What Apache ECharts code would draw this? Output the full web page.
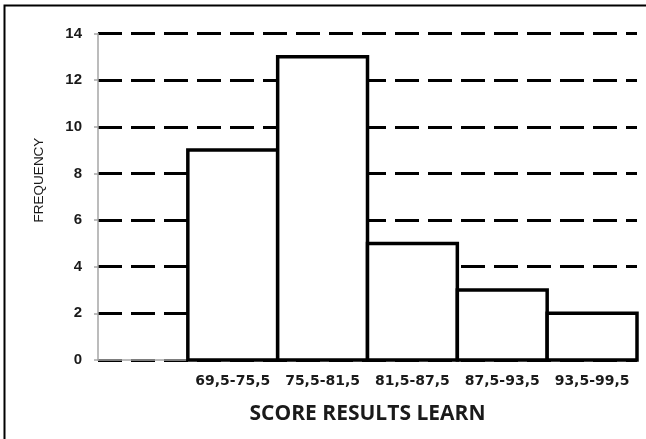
<!DOCTYPE html>
<html>
<head>
<meta charset="utf-8">
<script src="https://cdn.jsdelivr.net/npm/echarts@6/dist/echarts.min.js"></script>
<style>
  html, body { margin: 0; padding: 0; background: #fff; }
  #chart { width: 646px; height: 439px; }
</style>
</head>
<body>
<div id="chart"></div>
<script>
// Score class intervals (first slot left empty) and their frequencies
const categories = ['', '69,5-75,5', '75,5-81,5', '81,5-87,5', '87,5-93,5', '93,5-99,5'];
const frequencies = [null, 9, 13, 5, 3, 2];
const yTicks = { min: 0, max: 14, interval: 2 };

const chart = echarts.init(document.getElementById('chart'), null, { renderer: 'canvas' });

// Histogram columns: each fills its whole category band, outline centred on the band edges
function renderColumn(params, api) {
  const value = api.value(1);
  if (value == null || isNaN(value)) return null;
  const top = api.coord([api.value(0), value]);
  const base = api.coord([api.value(0), 0]);
  const band = api.size([1, 0])[0];
  return {
    type: 'rect',
    shape: { x: top[0] - band / 2, y: top[1], width: band, height: base[1] - top[1] },
    style: { fill: '#ffffff', stroke: '#000000', lineWidth: 3.5 }
  };
}

chart.setOption({
  backgroundColor: '#ffffff',
  animation: false,
  grid: { left: 98, right: 9, top: 33.5, bottom: 79, containLabel: false },
  xAxis: {
    type: 'category',
    data: categories,
    boundaryGap: true,
    axisLine: { show: true, lineStyle: { color: '#a6a6a6', width: 1.5 } },
    axisTick: { show: false },
    axisLabel: {
      interval: 0,
      hideOverlap: false,
      color: '#1a1a1a',
      fontFamily: 'DejaVu Sans',
      fontWeight: 'bold',
      fontSize: 14,
      margin: 14
    },
    name: 'SCORE RESULTS LEARN',
    nameLocation: 'middle',
    nameGap: 44,
    nameTextStyle: {
      color: '#1a1a1a',
      fontFamily: 'Open Sans',
      fontWeight: 'bold',
      fontSize: 21
    }
  },
  yAxis: {
    type: 'value',
    min: yTicks.min,
    max: yTicks.max,
    interval: yTicks.interval,
    axisLine: { show: true, lineStyle: { color: '#a6a6a6', width: 1.5 } },
    axisTick: { show: true, length: 4, lineStyle: { color: '#a6a6a6', width: 1.5 } },
    axisLabel: {
      color: '#1a1a1a',
      fontFamily: 'Liberation Sans',
      fontWeight: 'bold',
      fontSize: 15,
      margin: 16
    },
    splitLine: {
      show: true,
      lineStyle: { color: '#000000', width: 3, type: [24, 9] }
    }
  },
  series: [{
    type: 'custom',
    renderItem: renderColumn,
    data: frequencies.map((v, i) => [i, v]),
    encode: { x: 0, y: 1 },
    clip: false,
    z: 3
  }],
  graphic: [
    {
      // outer frame around the chart
      type: 'rect',
      shape: { x: 4.5, y: 5.5, width: 700, height: 500 },
      style: { fill: 'none', stroke: '#000000', lineWidth: 2 },
      silent: true
    },
    {
      type: 'text',
      x: 39,
      y: 180,
      rotation: Math.PI / 2,
      style: {
        text: 'FREQUENCY',
        fill: '#1a1a1a',
        font: '13.5px "Liberation Sans"',
        align: 'center',
        verticalAlign: 'middle'
      }
    }
  ]
});
</script>
</body>
</html>
